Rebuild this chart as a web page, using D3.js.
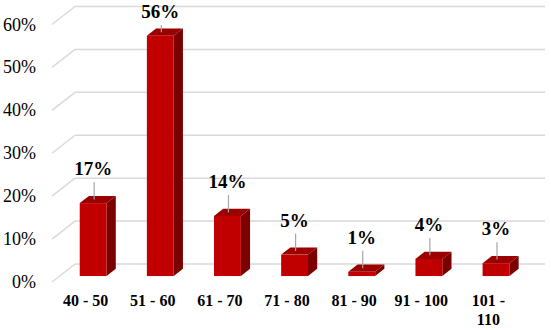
<!DOCTYPE html>
<html>
<head>
  <meta charset='UTF-8'>
  <style>
    body {
      margin: 0;
      background: #fff;
    }
  </style>
  <script src='https://cdnjs.cloudflare.com/ajax/libs/d3/7.8.5/d3.min.js'></script>
</head>
<body>
  <script>
    const categories = ['40 - 50', '51 - 60', '61 - 70', '71 - 80', '81 - 90', '91 - 100', '101 - 110']
    const values = [17, 56, 14, 5, 1, 4, 3]
    const yTicks = [0, 10, 20, 30, 40, 50, 60]

    const width = 551
    const height = 330
    const fontFamily = 'Liberation Serif'

    // front edge of the floor, and the depth vector of the 3d box
    const left = 52
    const right = 522
    const depth = {x: 23, y: -18}
    const barFront = 0.33
    const barDepth = 0.4

    const svg = d3.select('body').append('svg')
      .attr('width', width)
      .attr('height', height)

    const x = d3.scaleBand()
      .domain(categories)
      .range([left, right])
      .paddingInner(0)

    const y = d3.scaleLinear()
      .domain([0, 60])
      .range([282, 24.5])

    const shift = (px, py, t) => [px + depth.x * t, py + depth.y * t]

    // side wall + back wall gridlines
    const grid = svg.append('g')
      .attr('stroke', '#d9d9d9')
      .attr('stroke-width', 1.5)
    yTicks.forEach(t => {
      const [bx, by] = shift(left, y(t), 1)
      grid.append('line')
        .attr('x1', left).attr('y1', y(t))
        .attr('x2', bx).attr('y2', by)
      grid.append('line')
        .attr('x1', bx).attr('y1', by)
        .attr('x2', right + depth.x).attr('y2', by)
    })

    yTicks.forEach(t => {
      svg.append('text')
        .style('font-family', fontFamily)
        .style('font-size', '18px')
        .attr('x', 36)
        .attr('y', y(t) + 6)
        .attr('text-anchor', 'end')
        .text(t + '%')
    })

    // bars
    const barW = x.bandwidth() * 0.4
    const data = categories.map((c, i) => ({cat: c, v: values[i]}))

    const pts = d => {
      const cx = x(d.cat) + x.bandwidth() / 2
      const [fx0, fyb] = shift(cx - barW / 2, y(0), barFront)
      const [, fyt] = shift(cx - barW / 2, y(d.v), barFront)
      const fx1 = fx0 + barW
      const dx = depth.x * barDepth
      const dy = depth.y * barDepth
      return {fx0, fx1, fyb, fyt, dx, dy}
    }

    data.forEach(d => {
      const p = pts(d)
      svg.append('path')
        .attr('fill', '#7b0000')
        .attr('d', `M${p.fx1},${p.fyb}L${p.fx1 + p.dx},${p.fyb + p.dy}L${p.fx1 + p.dx},${p.fyt + p.dy}L${p.fx1},${p.fyt}Z`)
      svg.append('path')
        .attr('fill', '#9a0000')
        .attr('d', `M${p.fx0},${p.fyt}L${p.fx1},${p.fyt}L${p.fx1 + p.dx},${p.fyt + p.dy}L${p.fx0 + p.dx},${p.fyt + p.dy}Z`)
      svg.append('rect')
        .attr('fill', '#c00000')
        .attr('x', p.fx0)
        .attr('y', p.fyt)
        .attr('width', barW)
        .attr('height', p.fyb - p.fyt)

      // data label with leader line
      const cx = (p.fx0 + p.fx1) / 2
      const ly = Math.max(p.fyt - 28, 18)
      svg.append('line')
        .attr('stroke', '#a6a6a6')
        .attr('stroke-width', 1.2)
        .attr('x1', cx + 1).attr('y1', ly + 7)
        .attr('x2', cx + 1).attr('y2', p.fyt + p.dy / 2)
      svg.append('text')
        .style('font-family', fontFamily)
        .style('font-size', '19px')
        .style('font-weight', 'bold')
        .attr('x', cx)
        .attr('y', ly)
        .attr('text-anchor', 'middle')
        .text(d.v + '%')
    })

    // category labels, wrapped when too wide for the band
    categories.forEach(c => {
      const cx = x(c) + x.bandwidth() / 2
      const t = svg.append('text')
        .style('font-family', fontFamily)
        .style('font-size', '16px')
        .style('font-weight', 'bold')
        .attr('x', cx)
        .attr('y', 306)
        .attr('text-anchor', 'middle')
        .text(c)
      if (t.node().getComputedTextLength() > 58) {
        const cut = c.lastIndexOf(' ')
        t.text(null)
        t.append('tspan').attr('x', cx).text(c.slice(0, cut))
        t.append('tspan').attr('x', cx).attr('dy', 19).text(c.slice(cut + 1))
      }
    })
  </script>
</body>
</html>
